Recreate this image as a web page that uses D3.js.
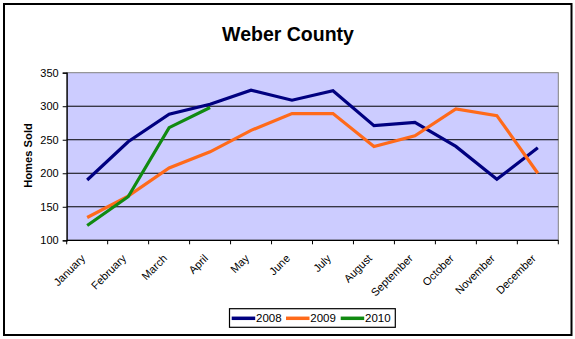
<!DOCTYPE html>
<html>
<head>
<meta charset="utf-8">
<script src="https://cdn.jsdelivr.net/npm/d3@7"></script>
<style>
  html, body { margin: 0; padding: 0; background: #fff; }
  svg { display: block; font-family: "Liberation Sans", Arial, sans-serif; }
</style>
</head>
<body>
<svg id="chart" width="575" height="339"></svg>
<script>
// Monthly homes sold, Weber County
const months = ["January", "February", "March", "April", "May", "June",
                "July", "August", "September", "October", "November", "December"];
const sales2008 = [190, 247, 288, 303, 324, 309, 323, 271, 276, 240, 191, 238];
const sales2009 = [134, 166, 208, 232, 264, 289, 289, 240, 256, 296, 286, 200];
const sales2010 = [122, 165, 268, 298];
const seriesNames = ["2008", "2009", "2010"];
const seriesColors = ["#000080", "#FF6A1A", "#108A10"];
const yTicks = [100, 150, 200, 250, 300, 350];

const series = [sales2008, sales2009, sales2010].map((vals, i) => ({
  name: seriesNames[i], color: seriesColors[i], values: vals
}));

const svg = d3.select("#chart");

// outer frame
svg.append("rect")
  .attr("x", 4).attr("y", 4).attr("width", 567.5).attr("height", 331)
  .attr("fill", "#fff").attr("stroke", "#000").attr("stroke-width", 2);

const plot = { left: 66.7, right: 558.3, top: 72.7, bottom: 240.3 };

const x = d3.scaleBand().domain(months).range([plot.left, plot.right]).padding(0);
const y = d3.scaleLinear().domain([100, 350]).range([plot.bottom, plot.top]);

// title
svg.append("text")
  .attr("x", 288).attr("y", 41)
  .attr("text-anchor", "middle")
  .attr("font-size", "19.5px").attr("font-weight", "bold")
  .text("Weber County");

// plot background
svg.append("rect")
  .attr("x", plot.left).attr("y", plot.top)
  .attr("width", plot.right - plot.left).attr("height", plot.bottom - plot.top)
  .attr("fill", "#CCCCFF").attr("stroke", "#808080").attr("stroke-width", 1);

// horizontal gridlines
svg.append("g")
  .selectAll("line")
  .data(yTicks.filter(t => t > 100 && t < 350))
  .join("line")
  .attr("x1", plot.left).attr("x2", plot.right)
  .attr("y1", d => y(d)).attr("y2", d => y(d))
  .attr("stroke", "#000").attr("stroke-width", 1);

// y axis
const yAxis = svg.append("g")
  .attr("transform", `translate(${plot.left},0)`)
  .call(d3.axisLeft(y).tickValues(yTicks).tickSize(4).tickPadding(4));
yAxis.select(".domain").attr("stroke", "#000").attr("stroke-width", 1.2);
yAxis.selectAll(".tick line").attr("stroke", "#000");
yAxis.selectAll("text")
  .attr("font-size", "11px").attr("font-family", "Liberation Sans, Arial, sans-serif")
  .attr("fill", "#000");

// x axis: ticks on category boundaries
const xAxisG = svg.append("g").attr("transform", `translate(0,${plot.bottom})`);
xAxisG.append("line")
  .attr("x1", plot.left).attr("x2", plot.right)
  .attr("stroke", "#000").attr("stroke-width", 1.2);
const boundaries = months.map(m => x(m)).concat([x(months[months.length - 1]) + x.bandwidth()]);
xAxisG.selectAll("line.tick")
  .data(boundaries)
  .join("line")
  .attr("class", "tick")
  .attr("x1", d => d).attr("x2", d => d)
  .attr("y1", 0).attr("y2", 4)
  .attr("stroke", "#000");
xAxisG.selectAll("text")
  .data(months)
  .join("text")
  .attr("transform", d => `translate(${x(d) + x.bandwidth() / 2 - 4},${16}) rotate(-45)`)
  .attr("text-anchor", "end")
  .attr("dy", "0.35em")
  .attr("font-size", "11px")
  .text(d => d);

// y axis title
svg.append("text")
  .attr("transform", `translate(32,155.5) rotate(-90)`)
  .attr("text-anchor", "middle")
  .attr("font-size", "11.2px").attr("font-weight", "bold")
  .text("Homes Sold");

// series lines
const line = d3.line()
  .x((d, i) => x(months[i]) + x.bandwidth() / 2)
  .y(d => y(d));

svg.append("g")
  .selectAll("path")
  .data(series)
  .join("path")
  .attr("d", d => line(d.values))
  .attr("fill", "none")
  .attr("stroke", d => d.color)
  .attr("stroke-width", 3.2)
  .attr("stroke-linejoin", "miter");

// legend
const legend = svg.append("g");
legend.append("rect")
  .attr("x", 229.5).attr("y", 308.7).attr("width", 165.8).attr("height", 18.6)
  .attr("fill", "#fff").attr("stroke", "#000").attr("stroke-width", 1.2);
const itemX = [231.7, 286, 340.7];
const li = legend.selectAll("g.item")
  .data(series)
  .join("g")
  .attr("class", "item")
  .attr("transform", (d, i) => `translate(${itemX[i]},318.3)`);
li.append("line")
  .attr("x1", 0).attr("x2", 23.5)
  .attr("stroke", d => d.color).attr("stroke-width", 3.5);
li.append("text")
  .attr("x", 24.3).attr("dy", "0.36em")
  .attr("font-size", "11.5px")
  .text(d => d.name);
</script>
</body>
</html>
